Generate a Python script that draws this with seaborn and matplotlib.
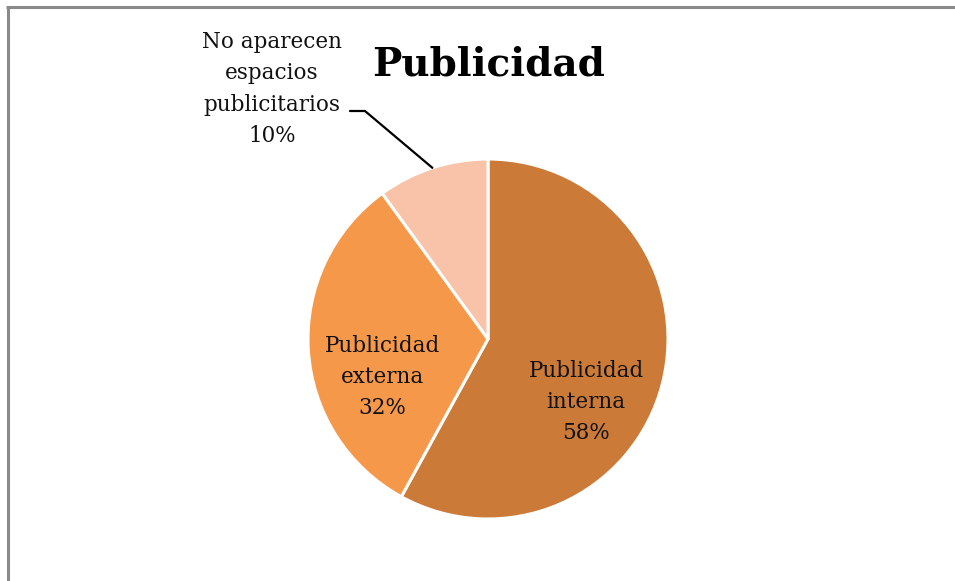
import matplotlib
matplotlib.use("Agg")
import matplotlib.pyplot as plt
import seaborn as sns
import numpy as np
from matplotlib.lines import Line2D

categories = ["Publicidad\ninterna", "Publicidad\nexterna", "No aparecen\nespacios\npublicitarios"]
values = [58, 32, 10]
colors = ["#CB7A38", "#F59849", "#F8C3A9"]
title = "Publicidad"

sns.set_theme(style="white")
plt.rcParams['font.family'] = ['DejaVu Serif']

W, H = 955, 581
fig = plt.figure(figsize=(W / 100, H / 100), dpi=100)
ax = fig.add_axes([0, 0, 1, 1])
ax.set_aspect("equal")
ax.axis("off")

cx, cy, r = 488, H - 339, 180
wedges, _ = ax.pie(values, colors=colors, startangle=90, counterclock=False,
                   center=(cx, cy), radius=r,
                   wedgeprops=dict(edgecolor="white", linewidth=2.2))
ax.set_xlim(0, W)
ax.set_ylim(0, H)

fs = 15.5
ls = 1.55
ax.text(586, H - 402, f"{categories[0]}\n{values[0]}%", ha="center", va="center",
        fontsize=fs, color="#111111", linespacing=ls)
ax.text(382, H - 377, f"{categories[1]}\n{values[1]}%", ha="center", va="center",
        fontsize=fs, color="#111111", linespacing=ls)
ax.text(272, H - 89, f"{categories[2]}\n{values[2]}%", ha="center", va="center",
        fontsize=fs, color="#111111", linespacing=ls)

# leader line for small slice
w = wedges[2]
mid = np.deg2rad((w.theta1 + w.theta2) / 2)
px, py = cx + r * np.cos(mid), cy + r * np.sin(mid)
ax.plot([350, 365, px], [H - 111, H - 111, py], color="black", linewidth=1.6)

ax.text(489, H - 64, title, ha="center", va="center", fontsize=28,
        fontweight="bold", color="black")

# frame (left and top borders)
fig.add_artist(Line2D([7.5 / W, 7.5 / W], [0, 1 - 6.5 / H], transform=fig.transFigure,
                      color="#8a8a8a", linewidth=2.2, solid_capstyle="butt"))
fig.add_artist(Line2D([6.4 / W, 1], [1 - 6.5 / H, 1 - 6.5 / H], transform=fig.transFigure,
                      color="#8a8a8a", linewidth=2.2, solid_capstyle="butt"))

fig.savefig("out.png", dpi=100)
